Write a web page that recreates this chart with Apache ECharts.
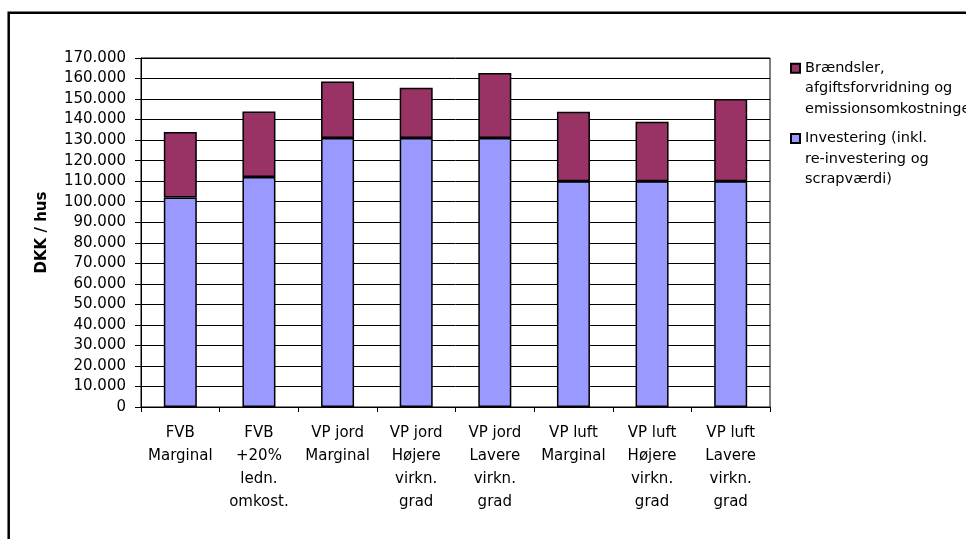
<!DOCTYPE html>
<html>
<head>
<meta charset="utf-8">
<script src="https://cdn.jsdelivr.net/npm/echarts@6/dist/echarts.min.js"></script>
<style>
  html, body { margin: 0; padding: 0; background: #fff; }
  #chart { width: 966px; height: 539px; }
</style>
</head>
<body>
<div id="chart"></div>
<script>
// Scenarier (x-akse)
const categories = [
  'FVB\nMarginal',
  'FVB\n+20%\nledn.\nomkost.',
  'VP jord\nMarginal',
  'VP jord\nHøjere\nvirkn.\ngrad',
  'VP jord\nLavere\nvirkn.\ngrad',
  'VP luft\nMarginal',
  'VP luft\nHøjere\nvirkn.\ngrad',
  'VP luft\nLavere\nvirkn.\ngrad'
];

// Investering (inkl. re-investering og scrapværdi), DKK / hus
const investering = [102000, 112000, 131000, 131000, 131000, 110000, 110000, 110000];

// Brændsler, afgiftsforvridning og emissionsomkostninger, DKK / hus
const braendsler = [32000, 32000, 27500, 24500, 31700, 33800, 29000, 40000];

// Y-akse
const yMin = 0;
const yMax = 170000;
const yStep = 10000;

const nameInvest = 'Investering (inkl.\nre-investering og\nscrapværdi)';
const nameFuel = 'Brændsler,\nafgiftsforvridning og\nemissionsomkostninger';

const FONT = 'DejaVu Sans';

function fmtThousands(v) {
  if (v === 0) return '0';
  const s = String(Math.round(v));
  return s.replace(/\B(?=(\d{3})+(?!\d))/g, '.');
}

const chart = echarts.init(document.getElementById('chart'), null, { renderer: 'canvas' });

// the two legend entries; blank leading lines keep the swatch beside the first text line
const legendText = {
  color: '#000',
  fontFamily: FONT,
  fontSize: 14.5,
  lineHeight: 20.3
};

chart.setOption({
  animation: false,
  backgroundColor: '#fff',
  textStyle: { fontFamily: FONT, color: '#000' },
  graphic: [{
    type: 'rect',
    shape: { x: 8.7, y: 12.7, width: 1000, height: 1000 },
    style: { fill: 'none', stroke: '#000', lineWidth: 2.5 },
    silent: true,
    z: 10
  }],
  legend: [{
    data: [nameFuel],
    left: 790,
    top: 17.5,
    padding: 0,
    itemWidth: 9,
    itemHeight: 9,
    icon: 'rect',
    selectedMode: false,
    formatter: (n) => '\n\n' + n,
    textStyle: legendText
  }, {
    data: [nameInvest],
    left: 790,
    top: 87.8,
    padding: 0,
    itemWidth: 9,
    itemHeight: 9,
    icon: 'rect',
    selectedMode: false,
    formatter: (n) => '\n\n' + n,
    textStyle: legendText
  }],
  grid: {
    left: 141,
    right: 196,
    top: 58,
    bottom: 132,
    show: true,
    borderColor: '#000',
    borderWidth: 1,
    backgroundColor: 'transparent'
  },
  xAxis: {
    type: 'category',
    data: categories,
    axisLine: { lineStyle: { color: '#000', width: 1 } },
    axisTick: { show: true, alignWithLabel: false, length: 5, lineStyle: { color: '#000' } },
    axisLabel: {
      interval: 0,
      margin: 14,
      color: '#000',
      fontFamily: FONT,
      fontSize: 15,
      lineHeight: 23.3,
      align: 'center'
    },
    splitLine: { show: false }
  },
  yAxis: {
    type: 'value',
    min: yMin,
    max: yMax,
    interval: yStep,
    name: 'DKK / hus',
    nameLocation: 'middle',
    nameRotate: 90,
    nameGap: 91,
    nameTextStyle: { color: '#000', fontFamily: FONT, fontSize: 15, fontWeight: 'bold' },
    axisLine: { show: true, lineStyle: { color: '#000', width: 1 } },
    axisTick: { show: true, length: 6, inside: false, lineStyle: { color: '#000' } },
    axisLabel: {
      margin: 15,
      color: '#000',
      fontFamily: FONT,
      fontSize: 15,
      formatter: fmtThousands
    },
    splitLine: { show: true, lineStyle: { color: '#000', width: 1 } }
  },
  series: [{
    name: nameInvest,
    type: 'bar',
    stack: 'total',
    data: investering,
    barWidth: 33,
    itemStyle: { color: '#9999FF', borderColor: '#000', borderWidth: 1.5 }
  }, {
    name: nameFuel,
    type: 'bar',
    stack: 'total',
    data: braendsler,
    barWidth: 33,
    itemStyle: { color: '#993366', borderColor: '#000', borderWidth: 1.5 }
  }]
});
</script>
</body>
</html>
